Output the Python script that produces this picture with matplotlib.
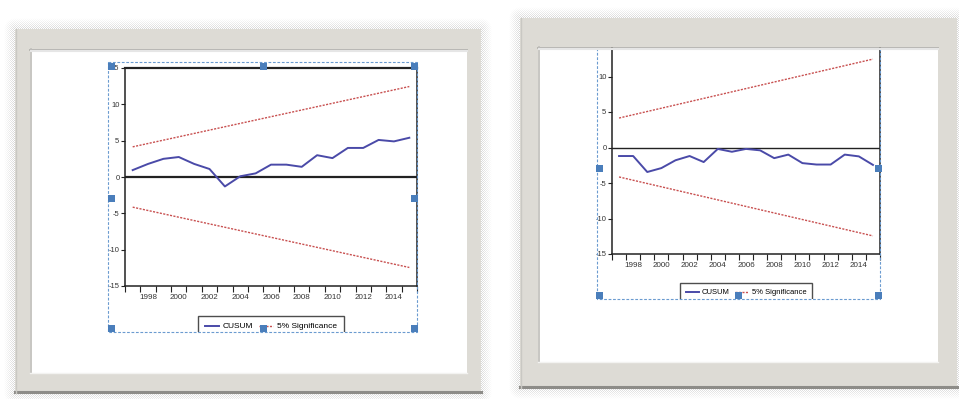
import numpy as np
import matplotlib.pyplot as plt
from matplotlib.patches import Rectangle
from matplotlib.lines import Line2D

plt.rcParams['font.family'] = ['Liberation Sans', 'DejaVu Sans']

# annual observations
years = list(range(1997, 2016))
cusum_a = [0.95, 1.8, 2.5, 2.75, 1.8, 1.1, -1.3, 0.1, 0.5, 1.7,
           1.7, 1.4, 3.0, 2.6, 4.0, 4.0, 5.1, 4.9, 5.4]
cusum_b = [-1.2, -1.2, -3.45, -2.9, -1.8, -1.2, -2.05, -0.2, -0.6, -0.2,
           -0.4, -1.5, -1.0, -2.2, -2.4, -2.4, -1.0, -1.25, -2.45]

# 5% bands are straight lines: value at first and last year
band_years = [1997, 2015]
band_upper = [4.15, 12.45]
band_lower = [-4.15, -12.45]

label_years = [1998, 2000, 2002, 2004, 2006, 2008, 2010, 2012, 2014]
y_ticks = [-15, -10, -5, 0, 5, 10, 15]

W, H = 959, 399
blue = '#4a4aa8'
red = '#c85050'
frame_grey = '#dddbd5'
handle_blue = '#4a7ebb'
dots = (0, (1.5, 1.0))


def px_axes(fig, x0, y0, x1, y1, **kw):
    return fig.add_axes([x0 / W, 1 - y1 / H, (x1 - x0) / W, (y1 - y0) / H], **kw)


def cusum_panel(ax, values, zero_lw, legend_xy, legend_size):
    ax.plot(years, values, color=blue, lw=1.4, zorder=3)
    ax.plot(band_years, band_upper, color=red, lw=1.0, ls=dots, zorder=2)
    ax.plot(band_years, band_lower, color=red, lw=1.0, ls=dots, zorder=2)
    ax.axhline(0, color='#222222', lw=zero_lw, zorder=2)
    ax.set_xlim(1996.5, 2015.5)
    ax.set_ylim(-15, 15)
    ax.set_yticks(y_ticks)
    ax.set_yticklabels([str(t) for t in y_ticks])
    ax.set_xticks(label_years)
    ax.set_xticklabels([str(y) for y in label_years])
    ax.set_xticks(np.arange(1996.5, 2016, 1.0), minor=True)
    ax.tick_params(axis='x', which='major', length=0, pad=6, labelsize=5.8, labelcolor='#333333')
    ax.tick_params(axis='x', which='minor', length=4, width=0.8, direction='out', color='#222222')
    ax.tick_params(axis='y', length=3, width=0.8, direction='out', pad=1, labelsize=5.5,
                   labelcolor='#333333', color='#222222')
    for s in ax.spines.values():
        s.set_color('#222222')
        s.set_linewidth(1.1)
    handles = [Line2D([], [], color=blue, lw=1.4),
               Line2D([], [], color=red, lw=1.0, ls=dots)]
    ax.legend(handles, ['CUSUM', '5% Significance'], loc='upper center', ncol=2,
              bbox_to_anchor=(legend_xy[0] / W, 1 - legend_xy[1] / H),
              bbox_transform=ax.figure.transFigure, fontsize=legend_size, frameon=True,
              fancybox=False, edgecolor='#222222', borderaxespad=0, handlelength=1.7,
              columnspacing=0.7, borderpad=0.8, handletextpad=0.45)


fig = plt.figure(figsize=(W / 100, H / 100), dpi=100)
fig.patch.set_facecolor('white')

ax1 = px_axes(fig, 125, 68, 417, 286, zorder=2)
cusum_panel(ax1, cusum_a, 1.6, (271, 316), 6.0)
ax1.spines['top'].set_linewidth(1.6)

ax2 = px_axes(fig, 612, 41, 880, 254, zorder=2)
cusum_panel(ax2, cusum_b, 1.0, (746, 283), 5.5)

# picture frames, selection boxes and handles drawn over the charts
top = px_axes(fig, 0, 0, W, H, zorder=5)
top.set_xlim(0, W)
top.set_ylim(H, 0)
top.patch.set_alpha(0)
top.axis('off')


def frame(outer, inner, glow=11):
    ox0, oy0, ox1, oy1 = outer
    ix0, iy0, ix1, iy1 = inner
    # stippled glow round the frame
    gx0, gy0, gx1, gy1 = ox0 - glow, oy0 - glow, ox1 + glow, oy1 + glow
    yy, xx = np.mgrid[gy0:gy1, gx0:gx1] + 0.5
    dx = np.maximum(np.maximum(ox0 - xx, xx - ox1), 0)
    dy = np.maximum(np.maximum(oy0 - yy, yy - oy1), 0)
    d = np.hypot(dx, dy)
    checker = ((xx.astype(int) + yy.astype(int)) % 2 == 0)
    alpha = np.clip(1 - d / glow, 0, 1) * 0.6 * checker
    alpha[(d == 0)] = 0
    img = np.zeros(alpha.shape + (4,))
    img[..., :3] = 0.74
    img[..., 3] = alpha
    top.imshow(img, extent=(gx0, gx1, gy1, gy0), interpolation='nearest', aspect='auto', zorder=1)
    # grey border band
    band = dict(color=frame_grey, lw=0, zorder=2)
    top.add_patch(Rectangle((ox0, oy0), ox1 - ox0, iy0 - oy0, **band))
    top.add_patch(Rectangle((ox0, iy1), ox1 - ox0, oy1 - iy1, **band))
    top.add_patch(Rectangle((ox0, iy0), ix0 - ox0, iy1 - iy0, **band))
    top.add_patch(Rectangle((ix1, iy0), ox1 - ix1, iy1 - iy0, **band))
    # edge shading
    top.plot([ox0, ox1], [oy1 - 1.5, oy1 - 1.5], color='#8d8c88', lw=2.2, zorder=3)
    top.plot([ox0 + 0.5, ox0 + 0.5], [oy0, oy1], color='#c9c8c3', lw=1, zorder=3)
    top.plot([ix0, ix1], [iy0 + 0.5, iy0 + 0.5], color='#a9a8a4', lw=1.2, zorder=3)
    top.plot([ix0 + 0.5, ix0 + 0.5], [iy0, iy1], color='#bdbcb8', lw=1.2, zorder=3)
    top.plot([ix0 + 1, ix1], [iy0 + 2, iy0 + 2], color='#e6e6e6', lw=1.5, zorder=3)
    top.plot([ix0, ix1], [iy1 - 0.5, iy1 - 0.5], color='#f3f3f1', lw=1, zorder=3)


def selection(box, handles):
    x0, y0, x1, y1 = box
    # the graph object is cropped at the selection box
    top.add_patch(Rectangle((x0 - 2, y1), x1 - x0 + 4, 30, color='white', lw=0, zorder=0.5))
    top.add_patch(Rectangle((x0, y0), x1 - x0, y1 - y0, fill=False, ec='#6b9bd0',
                            lw=0.8, ls=(0, (2.5, 1.5)), zorder=0.8))
    for hx, hy in handles:
        top.add_patch(Rectangle((hx - 3.5, hy - 3.5), 7, 7, color=handle_blue, lw=0, zorder=0.9))


selection((108, 62, 417, 332),
          [(111, 66), (263, 66), (414, 66), (111, 198), (414, 198),
           (111, 328), (263, 328), (414, 328)])
selection((597, 20, 880, 299),
          [(599, 168), (878, 168), (599, 295), (738, 295), (878, 295)])

frame((15, 29, 481, 393), (30, 49, 467, 373))
frame((520, 18, 957, 388), (538, 47, 938, 362))

top.set_xlim(0, W)
top.set_ylim(H, 0)

fig.savefig('out.png', dpi=100, facecolor='white')
